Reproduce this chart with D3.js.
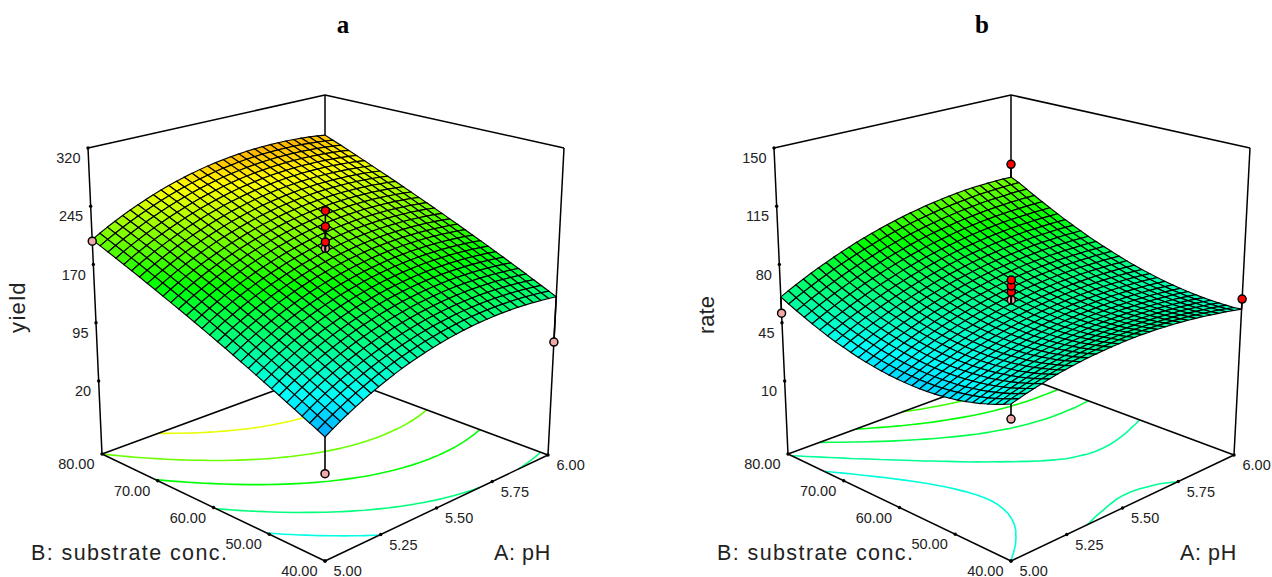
<!DOCTYPE html>
<html>
<head>
<meta charset="utf-8">
<script src="https://cdn.jsdelivr.net/npm/d3@7"></script>
<style>
  html, body { margin: 0; padding: 0; background: #fff; overflow: hidden; }
  text { font-family: "Liberation Sans", Arial, sans-serif; fill: #222; }
</style>
</head>
<body>
<div id="chart"></div>
<script>
const phTicks = [5.0, 5.25, 5.5, 5.75, 6.0];
const concTicks = [40, 50, 60, 70, 80];
const yieldTicks = [20, 95, 170, 245, 320];
const rateTicks = [10, 45, 80, 115, 150];

// Lowest level of the box
const yieldFloor = -74;
const rateFloor = -33.9;

// Contour levels seen on the floor
const yieldLevels = [103, 133.5, 170, 201.9, 238];
const rateLevels = [50.01, 59.3, 70, 79, 88];

// Design points: pH, conc, response
const yieldPoints = [[5, 80, 200], [6, 40, 71], [5, 40, 26], [5.5, 60, 197]];
const yieldHighPoints = [[5.5, 60, 205], [5.5, 60, 225], [5.5, 60, 245]];
const ratePoints = [[5, 80, 50.7], [5, 40, 42], [5.5, 60, 61.8]];
const rateHighPoints = [[6, 80, 104], [6, 40, 59.5], [5.5, 60, 66.5], [5.5, 60, 70.1], [5.5, 60, 73.7]];

// Surface heights, one row per conc step (40 to 80), one column per pH step (5 to 6)
const yieldGrid = [
[68,73.6,78.9,83.9,88.7,93.3,97.6,101.7,105.6,109.2,112.6,115.7,118.6,121.2,123.6,125.8,127.7,129.3,130.8,132,132.9,133.6,134.1,134.3,134.2,134,133.5,132.7,131.7,130.5,129],
[72.5,78.1,83.4,88.4,93.2,97.8,102.1,106.2,110.1,113.7,117.1,120.2,123.1,125.7,128.1,130.3,132.2,133.8,135.3,136.5,137.4,138.1,138.6,138.8,138.7,138.5,138,137.2,136.2,135,133.5],
[76.9,82.5,87.8,92.8,97.6,102.2,106.5,110.6,114.5,118.1,121.5,124.6,127.5,130.1,132.5,134.7,136.6,138.2,139.7,140.9,141.8,142.5,143,143.2,143.1,142.9,142.4,141.6,140.6,139.4,137.9],
[81.4,87,92.3,97.3,102.1,106.7,111,115.1,119,122.6,126,129.1,132,134.6,137,139.2,141.1,142.7,144.2,145.4,146.3,147,147.5,147.7,147.6,147.4,146.9,146.1,145.1,143.9,142.4],
[85.9,91.5,96.8,101.8,106.6,111.2,115.5,119.6,123.5,127.1,130.5,133.6,136.5,139.1,141.5,143.7,145.6,147.2,148.7,149.9,150.8,151.5,152,152.2,152.1,151.9,151.4,150.6,149.6,148.4,146.9],
[90.3,95.9,101.2,106.2,111,115.6,119.9,124,127.9,131.5,134.9,138,140.9,143.5,145.9,148.1,150,151.6,153.1,154.3,155.2,155.9,156.4,156.6,156.5,156.3,155.8,155,154,152.8,151.3],
[94.8,100.4,105.7,110.7,115.5,120.1,124.4,128.5,132.4,136,139.4,142.5,145.4,148,150.4,152.6,154.5,156.1,157.6,158.8,159.7,160.4,160.9,161.1,161,160.8,160.3,159.5,158.5,157.3,155.8],
[99.3,104.9,110.2,115.2,120,124.6,128.9,133,136.9,140.5,143.9,147,149.9,152.5,154.9,157.1,159,160.6,162.1,163.3,164.2,164.9,165.4,165.6,165.5,165.3,164.8,164,163,161.8,160.3],
[103.7,109.3,114.6,119.6,124.4,129,133.3,137.4,141.3,144.9,148.3,151.4,154.3,156.9,159.3,161.5,163.4,165,166.5,167.7,168.6,169.3,169.8,170,169.9,169.7,169.2,168.4,167.4,166.2,164.7],
[108.2,113.8,119.1,124.1,128.9,133.5,137.8,141.9,145.8,149.4,152.8,155.9,158.8,161.4,163.8,166,167.9,169.5,171,172.2,173.1,173.8,174.3,174.5,174.4,174.2,173.7,172.9,171.9,170.7,169.2],
[112.7,118.3,123.6,128.6,133.4,138,142.3,146.4,150.3,153.9,157.3,160.4,163.3,165.9,168.3,170.5,172.4,174,175.5,176.7,177.6,178.3,178.8,179,178.9,178.7,178.2,177.4,176.4,175.2,173.7],
[117.1,122.7,128,133,137.8,142.4,146.7,150.8,154.7,158.3,161.7,164.8,167.7,170.3,172.7,174.9,176.8,178.4,179.9,181.1,182,182.7,183.2,183.4,183.3,183.1,182.6,181.8,180.8,179.6,178.1],
[121.6,127.2,132.5,137.5,142.3,146.9,151.2,155.3,159.2,162.8,166.2,169.3,172.2,174.8,177.2,179.4,181.3,182.9,184.4,185.6,186.5,187.2,187.7,187.9,187.8,187.6,187.1,186.3,185.3,184.1,182.6],
[126.1,131.7,137,142,146.8,151.4,155.7,159.8,163.7,167.3,170.7,173.8,176.7,179.3,181.7,183.9,185.8,187.4,188.9,190.1,191,191.7,192.2,192.4,192.3,192.1,191.6,190.8,189.8,188.6,187.1],
[130.5,136.1,141.4,146.4,151.2,155.8,160.1,164.2,168.1,171.7,175.1,178.2,181.1,183.7,186.1,188.3,190.2,191.8,193.3,194.5,195.4,196.1,196.6,196.8,196.7,196.5,196,195.2,194.2,193,191.5],
[135,140.6,145.9,150.9,155.7,160.3,164.6,168.7,172.6,176.2,179.6,182.7,185.6,188.2,190.6,192.8,194.7,196.3,197.8,199,199.9,200.6,201.1,201.3,201.2,201,200.5,199.7,198.7,197.5,196],
[139.5,145.1,150.4,155.4,160.2,164.8,169.1,173.2,177.1,180.7,184.1,187.2,190.1,192.7,195.1,197.3,199.2,200.8,202.3,203.5,204.4,205.1,205.6,205.8,205.7,205.5,205,204.2,203.2,202,200.5],
[143.9,149.5,154.8,159.8,164.6,169.2,173.5,177.6,181.5,185.1,188.5,191.6,194.5,197.1,199.5,201.7,203.6,205.2,206.7,207.9,208.8,209.5,210,210.2,210.1,209.9,209.4,208.6,207.6,206.4,204.9],
[148.4,154,159.3,164.3,169.1,173.7,178,182.1,186,189.6,193,196.1,199,201.6,204,206.2,208.1,209.7,211.2,212.4,213.3,214,214.5,214.7,214.6,214.4,213.9,213.1,212.1,210.9,209.4],
[152.9,158.5,163.8,168.8,173.6,178.2,182.5,186.6,190.5,194.1,197.5,200.6,203.5,206.1,208.5,210.7,212.6,214.2,215.7,216.9,217.8,218.5,219,219.2,219.1,218.9,218.4,217.6,216.6,215.4,213.9],
[157.3,162.9,168.2,173.2,178,182.6,186.9,191,194.9,198.5,201.9,205,207.9,210.5,212.9,215.1,217,218.6,220.1,221.3,222.2,222.9,223.4,223.6,223.5,223.3,222.8,222,221,219.8,218.3],
[161.8,167.4,172.7,177.7,182.5,187.1,191.4,195.5,199.4,203,206.4,209.5,212.4,215,217.4,219.6,221.5,223.1,224.6,225.8,226.7,227.4,227.9,228.1,228,227.8,227.3,226.5,225.5,224.3,222.8],
[166.3,171.9,177.2,182.2,187,191.6,195.9,200,203.9,207.5,210.9,214,216.9,219.5,221.9,224.1,226,227.6,229.1,230.3,231.2,231.9,232.4,232.6,232.5,232.3,231.8,231,230,228.8,227.3],
[170.7,176.3,181.6,186.6,191.4,196,200.3,204.4,208.3,211.9,215.3,218.4,221.3,223.9,226.3,228.5,230.4,232,233.5,234.7,235.6,236.3,236.8,237,236.9,236.7,236.2,235.4,234.4,233.2,231.7],
[175.2,180.8,186.1,191.1,195.9,200.5,204.8,208.9,212.8,216.4,219.8,222.9,225.8,228.4,230.8,233,234.9,236.5,238,239.2,240.1,240.8,241.3,241.5,241.4,241.2,240.7,239.9,238.9,237.7,236.2],
[179.7,185.3,190.6,195.6,200.4,205,209.3,213.4,217.3,220.9,224.3,227.4,230.3,232.9,235.3,237.5,239.4,241,242.5,243.7,244.6,245.3,245.8,246,245.9,245.7,245.2,244.4,243.4,242.2,240.7],
[184.1,189.7,195,200,204.8,209.4,213.7,217.8,221.7,225.3,228.7,231.8,234.7,237.3,239.7,241.9,243.8,245.4,246.9,248.1,249,249.7,250.2,250.4,250.3,250.1,249.6,248.8,247.8,246.6,245.1],
[188.6,194.2,199.5,204.5,209.3,213.9,218.2,222.3,226.2,229.8,233.2,236.3,239.2,241.8,244.2,246.4,248.3,249.9,251.4,252.6,253.5,254.2,254.7,254.9,254.8,254.6,254.1,253.3,252.3,251.1,249.6],
[193.1,198.7,204,209,213.8,218.4,222.7,226.8,230.7,234.3,237.7,240.8,243.7,246.3,248.7,250.9,252.8,254.4,255.9,257.1,258,258.7,259.2,259.4,259.3,259.1,258.6,257.8,256.8,255.6,254.1],
[197.5,203.1,208.4,213.4,218.2,222.8,227.1,231.2,235.1,238.7,242.1,245.2,248.1,250.7,253.1,255.3,257.2,258.8,260.3,261.5,262.4,263.1,263.6,263.8,263.7,263.5,263,262.2,261.2,260,258.5],
[202,207.6,212.9,217.9,222.7,227.3,231.6,235.7,239.6,243.2,246.6,249.7,252.6,255.2,257.6,259.8,261.7,263.3,264.8,266,266.9,267.6,268.1,268.3,268.2,268,267.5,266.7,265.7,264.5,263]
];
const rateGrid = [
[50,51.3,52.5,53.6,54.6,55.6,56.5,57.3,58,58.6,59.2,59.6,60,60.3,60.5,60.7,60.8,60.8,60.7,60.5,60.2,59.9,59.5,59,58.4,57.8,57,56.2,55.4,54.4,53.5],
[48.2,49.6,50.8,52,53.1,54.1,55,55.9,56.6,57.3,57.9,58.4,58.9,59.2,59.5,59.7,59.9,59.9,59.9,59.7,59.5,59.3,58.9,58.4,58,57.3,56.6,55.8,55.1,54.1,53.1],
[46.6,48,49.3,50.5,51.7,52.7,53.7,54.6,55.4,56.2,56.8,57.4,57.9,58.3,58.6,58.9,59.1,59.2,59.2,59.1,58.9,58.7,58.4,58,57.6,57,56.3,55.6,54.9,54,53.1],
[45.2,46.6,47.9,49.2,50.4,51.5,52.5,53.5,54.4,55.1,55.9,56.5,57,57.5,57.9,58.2,58.4,58.6,58.6,58.6,58.5,58.3,58.1,57.7,57.3,56.8,56.2,55.5,54.8,54,53.1],
[43.8,45.3,46.7,48,49.3,50.4,51.5,52.5,53.4,54.3,55,55.7,56.3,56.8,57.2,57.6,57.9,58.1,58.2,58.2,58.2,58,57.8,57.5,57.2,56.7,56.1,55.5,54.9,54.1,53.3],
[42.7,44.2,45.6,47,48.3,49.5,50.6,51.7,52.6,53.5,54.3,55,55.7,56.3,56.7,57.1,57.5,57.7,57.9,57.9,57.9,57.9,57.7,57.5,57.2,56.7,56.2,55.6,55.1,54.3,53.5],
[41.6,43.2,44.7,46.1,47.4,48.7,49.9,51,52,52.9,53.8,54.5,55.2,55.8,56.4,56.8,57.2,57.5,57.7,57.8,57.8,57.8,57.7,57.5,57.2,56.9,56.4,55.9,55.4,54.6,53.9],
[40.7,42.4,43.9,45.4,46.7,48,49.3,50.4,51.5,52.4,53.3,54.1,54.9,55.5,56.1,56.6,57,57.4,57.6,57.8,57.9,57.9,57.8,57.6,57.5,57.1,56.7,56.2,55.8,55.1,54.4],
[40,41.7,43.2,44.8,46.2,47.5,48.8,50,51.1,52.1,53,53.9,54.7,55.4,56,56.5,57,57.4,57.7,57.9,58,58.1,58,57.9,57.8,57.5,57.2,56.7,56.2,55.6,55],
[39.4,41.1,42.7,44.3,45.8,47.1,48.5,49.7,50.8,51.9,52.9,53.8,54.6,55.4,56,56.6,57.1,57.5,57.9,58.1,58.3,58.4,58.4,58.3,58.2,58,57.7,57.3,56.9,56.3,55.7],
[38.9,40.7,42.4,44,45.5,46.9,48.3,49.5,50.7,51.8,52.9,53.8,54.7,55.4,56.2,56.8,57.3,57.8,58.2,58.5,58.7,58.9,58.9,58.9,58.78,58.61,58.35,58,57.58,57.09,56.5],
[38.6,40.4,42.2,43.8,45.3,46.8,48.2,49.5,50.7,51.9,53,53.9,54.9,55.7,56.4,57.1,57.7,58.2,58.6,59,59.2,59.4,59.5,59.5,59.48,59.34,59.12,58.82,58.44,57.99,57.44],
[38.5,40.3,42.1,43.7,45.3,46.8,48.3,49.6,50.9,52.1,53.2,54.2,55.2,56,56.8,57.5,58.2,58.7,59.2,59.6,59.9,60.1,60.2,60.3,60.28,60.18,60,59.74,59.4,58.99,58.48],
[38.5,40.3,42.1,43.9,45.5,47,48.5,49.9,51.2,52.4,53.6,54.6,55.6,56.5,57.4,58.1,58.8,59.4,59.9,60.3,60.6,60.9,61.1,61.2,61.2,61.15,61.01,60.78,60.48,60.11,59.64],
[38.6,40.5,42.3,44.1,45.8,47.3,48.9,50.3,51.6,52.9,54.1,55.2,56.2,57.2,58,58.8,59.5,60.1,60.7,61.1,61.5,61.8,62,62.1,62.2,62.2,62.1,61.9,61.7,61.3,60.9],
[38.9,40.8,42.7,44.5,46.2,47.8,49.4,50.8,52.2,53.5,54.7,55.9,56.9,57.9,58.8,59.6,60.4,61,61.6,62.1,62.5,62.9,63.1,63.3,63.4,63.4,63.3,63.1,63,62.6,62.3],
[39.3,41.3,43.2,45,46.8,48.4,50,51.5,52.9,54.2,55.5,56.7,57.8,58.8,59.7,60.6,61.4,62,62.7,63.2,63.6,64,64.3,64.5,64.7,64.7,64.6,64.5,64.4,64.1,63.8],
[39.9,41.9,43.8,45.7,47.5,49.1,50.8,52.3,53.8,55.1,56.4,57.6,58.8,59.8,60.8,61.7,62.5,63.2,63.8,64.4,64.9,65.3,65.6,65.8,66.1,66.1,66.1,66,65.9,65.6,65.4],
[40.6,42.6,44.6,46.5,48.3,50,51.7,53.2,54.7,56.1,57.5,58.7,59.9,61,62,62.9,63.7,64.5,65.2,65.8,66.3,66.7,67.1,67.3,67.6,67.7,67.7,67.6,67.6,67.3,67.1],
[41.4,43.5,45.5,47.5,49.3,51,52.7,54.3,55.9,57.3,58.6,59.9,61.1,62.2,63.3,64.2,65.1,65.9,66.6,67.2,67.8,68.3,68.6,68.9,69.2,69.3,69.4,69.3,69.3,69.1,68.9],
[42.4,44.6,46.6,48.5,50.4,52.2,53.9,55.5,57.1,58.6,59.9,61.3,62.5,63.6,64.7,65.7,66.6,67.4,68.2,68.8,69.4,69.9,70.3,70.6,71,71.1,71.2,71.2,71.2,71,70.8],
[43.6,45.7,47.8,49.8,51.7,53.5,55.3,56.9,58.5,60,61.4,62.7,64,65.2,66.3,67.3,68.2,69.1,69.9,70.5,71.2,71.7,72.1,72.5,72.8,73,73.1,73.2,73.2,73,72.9],
[44.9,47.1,49.2,51.2,53.1,54.9,56.7,58.4,60,61.5,63,64.3,65.6,66.8,68,69,70,70.9,71.7,72.4,73,73.6,74.1,74.4,74.8,75,75.1,75.2,75.3,75.2,75],
[46.3,48.5,50.7,52.7,54.7,56.5,58.3,60,61.7,63.2,64.7,66.1,67.4,68.6,69.8,70.9,71.9,72.8,73.6,74.3,75,75.6,76.1,76.5,76.9,77.2,77.3,77.4,77.5,77.4,77.3],
[47.9,50.2,52.3,54.4,56.3,58.2,60.1,61.8,63.5,65.1,66.6,68,69.3,70.6,71.7,72.9,73.9,74.8,75.7,76.4,77.1,77.8,78.3,78.7,79.1,79.4,79.6,79.7,79.8,79.8,79.7],
[49.7,51.9,54.1,56.2,58.2,60.1,61.9,63.7,65.4,67,68.5,70,71.3,72.6,73.8,74.9,76,76.9,77.8,78.6,79.4,80,80.6,81,81.5,81.8,82,82.1,82.3,82.2,82.2],
[51.5,53.8,56,58.1,60.2,62.1,64,65.8,67.5,69.1,70.7,72.1,73.5,74.8,76,77.2,78.3,79.2,80.1,81,81.7,82.4,83,83.4,83.9,84.2,84.5,84.6,84.8,84.8,84.8],
[53.6,55.9,58.1,60.2,62.3,64.2,66.1,68,69.7,71.3,72.9,74.4,75.8,77.1,78.4,79.6,80.7,81.7,82.6,83.4,84.2,84.9,85.5,86,86.5,86.8,87.1,87.3,87.5,87.5,87.5],
[55.7,58,60.3,62.4,64.5,66.5,68.4,70.3,72,73.7,75.3,76.8,78.2,79.6,80.9,82.1,83.2,84.2,85.1,86,86.8,87.5,88.1,88.7,89.2,89.6,89.8,90,90.3,90.3,90.3],
[58,60.4,62.6,64.8,66.9,68.9,70.9,72.7,74.5,76.2,77.8,79.3,80.8,82.2,83.5,84.7,85.8,86.9,87.8,88.7,89.5,90.3,90.9,91.4,92,92.4,92.7,92.9,93.1,93.2,93.2],
[60.5,62.9,65.1,67.3,69.5,71.5,73.4,75.3,77.1,78.8,80.5,82,83.5,84.9,86.2,87.4,88.6,89.7,90.6,91.6,92.4,93.1,93.8,94.4,94.9,95.2,95.4,95.6,95.6,95.6,95.5]
];

const width = 1272;
const height = 577;

const svg = d3
  .select("#chart")
  .append("svg")
  .attr("width", width)
  .attr("height", height)
  .style("display", "block");

// Box corners on the page, for panel a. Panel b is the same box moved right.
const floorBox = { front: [325, 561], right: [548, 455], left: [102, 454], back: [325, 372] };
const topBox = { front: [325, 217], right: [564, 148], left: [88, 148], back: [325, 95] };

function bilinear(box, u, v) {
  return [0, 1].map(
    (k) =>
      box.front[k] * (1 - u) * (1 - v) +
      box.right[k] * u * (1 - v) +
      box.left[k] * (1 - u) * v +
      box.back[k] * u * v
  );
}

function drawPanel(cfg) {
  const g = svg.append("g").attr("transform", `translate(${cfg.dx}, 0)`);

  const phScale = d3.scaleLinear().domain([5, 6]).range([0, 1]);
  const concScale = d3.scaleLinear().domain([40, 80]).range([0, 1]);
  const zScale = d3
    .scaleLinear()
    .domain([cfg.floor, cfg.zTicks[4]])
    .range([0, 1]);
  const color = d3
    .scaleLinear()
    .domain(cfg.zTicks)
    .range(["#0000ff", "#00ffff", "#00ff00", "#ffff00", "#ff0000"])
    .clamp(true);

  // Page position of a point given as unit pH, unit conc and height
  const project = (u, v, z) => {
    const t = zScale(z);
    const lo = bilinear(floorBox, u, v);
    const hi = bilinear(topBox, u, v);
    return [lo[0] + (hi[0] - lo[0]) * t, lo[1] + (hi[1] - lo[1]) * t];
  };

  const nRows = cfg.grid.length;
  const nCols = cfg.grid[0].length;
  const uOf = d3.scaleLinear().domain([0, nCols - 1]).range([0, 1]);
  const vOf = d3.scaleLinear().domain([0, nRows - 1]).range([0, 1]);
  const vertex = (i, j) => project(uOf(i), vOf(j), cfg.grid[j][i]);

  // Floor contours
  const contours = d3
    .contours()
    .size([nCols, nRows])
    .thresholds(cfg.levels)(cfg.grid.flat());
  const floorLine = d3.line();
  contours.forEach((c) => {
    const pieces = [];
    c.coordinates.forEach((poly) =>
      poly.forEach((ring) => {
        let piece = [];
        ring.forEach(([x, y]) => {
          // the outer border of the ring is not a contour
          if (x >= 0.5 && x <= nCols - 0.5 && y >= 0.5 && y <= nRows - 0.5) {
            piece.push(bilinear(floorBox, uOf(x - 0.5), vOf(y - 0.5)));
          } else {
            if (piece.length > 1) pieces.push(piece);
            piece = [];
          }
        });
        if (piece.length > 1) pieces.push(piece);
      })
    );
    g.selectAll(null)
      .data(pieces)
      .enter()
      .append("path")
      .attr("d", floorLine)
      .attr("fill", "none")
      .attr("stroke", color(c.value))
      .attr("stroke-width", 1.6);
  });

  // Box edges
  const edges = [
    [floorBox.front, floorBox.right],
    [floorBox.front, floorBox.left],
    [floorBox.left, floorBox.back],
    [floorBox.right, floorBox.back],
    [floorBox.left, topBox.left],
    [floorBox.right, topBox.right],
    [floorBox.back, topBox.back],
    [topBox.left, topBox.back],
    [topBox.right, topBox.back],
  ];
  g.selectAll(".edge")
    .data(edges)
    .enter()
    .append("line")
    .attr("class", "edge")
    .attr("x1", (d) => d[0][0])
    .attr("y1", (d) => d[0][1])
    .attr("x2", (d) => d[1][0])
    .attr("y2", (d) => d[1][1])
    .attr("stroke", "#000")
    .attr("stroke-width", 1.5);

  // Tick dots and labels
  const tickDot = (sel) =>
    sel.append("circle").attr("r", 1.7).attr("fill", "#000");

  const phAxis = g.selectAll(".ph").data(phTicks).enter().append("g").attr("class", "ph")
    .attr("transform", (d) => `translate(${bilinear(floorBox, phScale(d), 0)})`);
  tickDot(phAxis);
  phAxis.append("text").attr("x", 8.5).attr("y", 10).attr("dy", "0.36em")
    .style("font-size", "14.5px").text((d) => d.toFixed(2));

  const concAxis = g.selectAll(".conc").data(concTicks).enter().append("g").attr("class", "conc")
    .attr("transform", (d) => `translate(${bilinear(floorBox, 0, concScale(d))})`);
  tickDot(concAxis);
  concAxis.append("text").attr("x", -7.5).attr("y", 10).attr("dy", "0.36em")
    .attr("text-anchor", "end").style("font-size", "14.5px").text((d) => d.toFixed(2));

  const zAxis = g.selectAll(".ztick").data(cfg.zTicks).enter().append("g").attr("class", "ztick")
    .attr("transform", (d) => `translate(${project(0, 1, d)})`);
  tickDot(zAxis);
  zAxis.append("text").attr("x", -7.5).attr("y", 10).attr("dy", "0.36em")
    .attr("text-anchor", "end").style("font-size", "14.5px").text((d) => d);

  // Surface cells, from the back corner to the front
  const cells = [];
  for (let j = 0; j < nRows - 1; j++) {
    for (let i = 0; i < nCols - 1; i++) {
      cells.push({ i, j });
    }
  }
  cells.sort((p, q) => q.i + q.j - (p.i + p.j));
  g.selectAll(".cell")
    .data(cells)
    .enter()
    .append("path")
    .attr("class", "cell")
    .attr("d", ({ i, j }) =>
      d3.line().curve(d3.curveLinearClosed)([
        vertex(i, j),
        vertex(i + 1, j),
        vertex(i + 1, j + 1),
        vertex(i, j + 1),
      ])
    )
    .attr("fill", ({ i, j }) =>
      color(
        (cfg.grid[j][i] + cfg.grid[j][i + 1] + cfg.grid[j + 1][i] + cfg.grid[j + 1][i + 1]) / 4
      )
    )
    .attr("stroke", "#000")
    .attr("stroke-width", 1.15);

  // Design points with a stick to the surface
  const drawPoints = (points, fill) => {
    const toPage = (p) => project(phScale(p[0]), concScale(p[1]), p[2]);
    const toSurface = (p) => {
      const u = phScale(p[0]);
      const v = concScale(p[1]);
      const z = cfg.grid[Math.round(v * (nRows - 1))][Math.round(u * (nCols - 1))];
      return project(u, v, z);
    };
    g.selectAll(null)
      .data(points)
      .enter()
      .append("line")
      .attr("x1", (d) => toSurface(d)[0])
      .attr("y1", (d) => toSurface(d)[1])
      .attr("x2", (d) => toPage(d)[0])
      .attr("y2", (d) => toPage(d)[1])
      .attr("stroke", "#000")
      .attr("stroke-width", 1.6);
    g.selectAll(null)
      .data(points)
      .enter()
      .append("circle")
      .attr("cx", (d) => toPage(d)[0])
      .attr("cy", (d) => toPage(d)[1])
      .attr("r", 4)
      .attr("fill", fill)
      .attr("stroke", "#000")
      .attr("stroke-width", 1.5);
  };
  drawPoints(cfg.lowPoints, "#f0a8a8");
  drawPoints(cfg.highPoints, "#ff0000");

  // Axis titles
  g.append("text")
    .attr("x", 31)
    .attr("y", 560)
    .style("font-size", "21.5px")
    .style("letter-spacing", "1.4px")
    .text("B: substrate conc.");
  g.append("text")
    .attr("x", 494)
    .attr("y", 560)
    .style("font-size", "21.5px")
    .style("letter-spacing", "0.6px")
    .text("A: pH");
  g.append("text")
    .attr("transform", `translate(${cfg.zTitleX}, ${cfg.zTitleY}) rotate(-90)`)
    .attr("text-anchor", "middle")
    .style("font-size", "22px")
    .style("letter-spacing", cfg.zTitleSpacing)
    .text(cfg.zTitle);

  // Panel letter
  svg.append("text")
    .attr("x", cfg.letterX)
    .attr("y", 33)
    .attr("text-anchor", "middle")
    .style("font-family", '"Liberation Serif", serif')
    .style("font-weight", "bold")
    .style("font-size", "25px")
    .style("fill", "#000")
    .text(cfg.letter);
}

drawPanel({
  dx: 0,
  letter: "a",
  letterX: 343,
  zTitle: "yield",
  zTitleX: 25,
  zTitleY: 307,
  zTitleSpacing: "1.3px",
  grid: yieldGrid,
  zTicks: yieldTicks,
  floor: yieldFloor,
  levels: yieldLevels,
  lowPoints: yieldPoints,
  highPoints: yieldHighPoints,
});

drawPanel({
  dx: 686,
  letter: "b",
  letterX: 982,
  zTitle: "rate",
  zTitleX: 28,
  zTitleY: 315,
  zTitleSpacing: "0px",
  grid: rateGrid,
  zTicks: rateTicks,
  floor: rateFloor,
  levels: rateLevels,
  lowPoints: ratePoints,
  highPoints: rateHighPoints,
});
</script>
</body>
</html>
